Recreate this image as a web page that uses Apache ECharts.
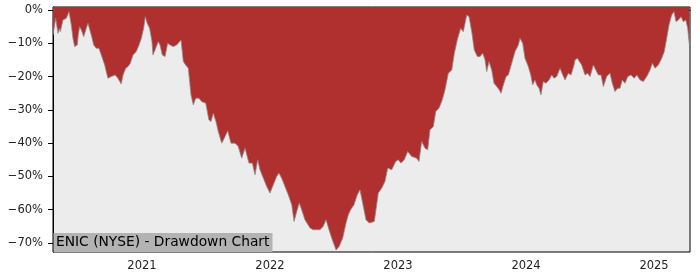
<!DOCTYPE html>
<html><head><meta charset="utf-8">
<script src="https://cdn.jsdelivr.net/npm/echarts@6/dist/echarts.min.js"></script>
<style>html,body{margin:0;padding:0;background:#fff}#c{width:700px;height:280px}</style>
</head><body><div id="c"></div>
<script>
// time as decimal years
const years = [2020.305,2020.326,2020.344,2020.357,2020.362,2020.383,2020.409,2020.430,2020.448,2020.461,2020.474,2020.487,2020.495,2020.502,2020.513,2020.526,2020.545,2020.565,2020.578,2020.591,2020.604,2020.623,2020.643,2020.664,2020.682,2020.709,2020.721,2020.734,2020.760,2020.773,2020.791,2020.812,2020.838,2020.852,2020.873,2020.891,2020.909,2020.930,2020.955,2020.977,2020.995,2021.013,2021.026,2021.041,2021.060,2021.078,2021.086,
2021.102,2021.127,2021.141,2021.159,2021.180,2021.201,2021.219,2021.245,2021.271,2021.305,2021.323,2021.341,2021.362,2021.383,2021.401,2021.420,2021.445,2021.466,2021.498,2021.523,2021.539,2021.557,2021.578,2021.596,2021.623,2021.643,2021.670,2021.695,2021.727,2021.752,2021.779,2021.805,2021.836,2021.862,2021.883,2021.904,
2021.922,2021.948,2021.974,2022.000,2022.026,2022.052,2022.070,2022.091,2022.117,2022.143,2022.170,2022.188,2022.209,2022.229,2022.252,2022.273,2022.313,2022.338,2022.365,2022.391,2022.416,2022.438,2022.461,2022.482,2022.516,2022.541,2022.568,2022.594,2022.612,2022.630,2022.656,2022.682,2022.703,2022.724,2022.750,2022.776,
2022.815,2022.846,2022.873,2022.898,2022.920,2022.951,2022.982,2023.002,2023.023,2023.049,2023.076,2023.107,2023.146,2023.164,2023.185,2023.211,2023.232,2023.250,2023.276,2023.295,2023.320,2023.346,2023.367,2023.393,2023.420,2023.440,2023.466,2023.490,2023.510,2023.537,2023.555,
2023.576,2023.596,2023.620,2023.641,2023.662,2023.680,2023.693,2023.711,2023.732,2023.750,2023.771,2023.791,2023.805,2023.823,2023.844,2023.862,2023.888,2023.914,2023.940,2023.953,2023.974,2023.992,2024.018,2024.037,2024.052,2024.070,2024.084,2024.102,2024.117,2024.135,2024.156,2024.180,2024.201,2024.219,2024.240,2024.266,2024.287,2024.305,2024.330,2024.352,2024.375,
2024.383,2024.401,2024.414,2024.435,2024.461,2024.482,2024.500,2024.526,2024.545,2024.565,2024.586,2024.604,2024.630,2024.656,2024.674,2024.695,2024.716,2024.734,2024.752,2024.773,2024.795,2024.820,2024.846,2024.865,2024.891,2024.916,2024.943,2024.969,2024.987,2025.008,2025.034,2025.060,2025.080,2025.099,2025.117,2025.138,2025.156,2025.172,2025.190,2025.211,2025.229,2025.248,2025.263,2025.276];
const drawdown = [-7.5,-2.5,-7.0,-5.5,-6.5,-3.0,-2.5,-0.5,-4.5,-8.5,-11.0,-11.5,-10.5,-7.5,-5.0,-6.0,-8.0,-5.5,-4.0,-4.5,-7.5,-10.5,-11.5,-11.5,-13.5,-16.5,-18.5,-20.5,-20.0,-20.5,-19.5,-20.5,-22.2,-19.5,-17.5,-17.0,-16.0,-13.5,-12.5,-10.5,-8.5,-5.5,-2.0,-4.0,-5.5,-9.5,-13.5,
-12.0,-9.5,-10.5,-13.5,-14.0,-10.0,-10.5,-11.0,-10.5,-9.0,-15.5,-16.5,-17.5,-25.5,-28.5,-26.5,-26.5,-27.5,-28.0,-33.0,-33.5,-31.0,-33.5,-36.5,-40.0,-38.5,-36.3,-40.0,-40.0,-41.0,-44.5,-41.5,-46.0,-46.0,-49.5,-45.0,
-48.0,-50.5,-53.0,-55.0,-52.5,-50.0,-49.0,-50.5,-53.0,-55.5,-58.5,-63.5,-60.5,-58.0,-60.5,-63.0,-65.5,-66.0,-66.0,-66.0,-65.0,-63.0,-66.0,-68.5,-72.1,-71.0,-68.5,-64.0,-61.5,-60.0,-58.5,-55.5,-54.0,-58.0,-63.0,-64.0,
-63.5,-55.0,-53.5,-51.5,-47.5,-48.0,-45.5,-45.0,-46.0,-45.0,-42.5,-44.0,-44.5,-45.5,-39.5,-41.5,-42.0,-36.0,-35.0,-30.5,-29.5,-27.0,-24.0,-19.0,-18.0,-13.0,-8.5,-5.5,-6.5,-1.5,-2.0,
-6.5,-12.0,-14.0,-14.0,-13.0,-15.0,-18.5,-15.5,-18.0,-22.0,-23.0,-24.0,-25.0,-22.5,-20.0,-19.5,-16.0,-12.5,-10.5,-8.5,-10.0,-14.5,-17.0,-19.5,-22.5,-21.0,-22.5,-23.5,-25.5,-21.5,-22.0,-21.0,-19.5,-20.5,-20.0,-17.5,-19.5,-21.0,-19.0,-19.5,-16.5,
-15.0,-14.5,-15.0,-16.5,-19.5,-19.0,-20.0,-16.5,-18.0,-19.5,-19.5,-23.0,-20.0,-19.0,-22.0,-24.5,-23.5,-23.5,-21.0,-22.0,-20.0,-19.5,-20.5,-19.5,-21.0,-21.5,-20.0,-18.0,-16.0,-17.5,-16.5,-14.5,-12.5,-8.5,-4.5,-1.5,-0.5,-3.5,-3.0,-2.0,-3.5,-3.0,-5.5,-10.5];
const yTicks = [-70,-60,-50,-40,-30,-20,-10,0];
const yearTicks = [2021,2022,2023,2024,2025];
const xRange = [2020.305, 2025.281];
const yRange = [-72.7, 0.9];
const title = "ENIC (NYSE) - Drawdown Chart";

const chart = echarts.init(document.getElementById('c'), null, {renderer:'canvas'});
const font = 'DejaVu Sans';
chart.setOption({
  animation: false,
  grid: {left:53, right:10, top:7, bottom:28, show:true, backgroundColor:'#ececec', borderColor:'#000', borderWidth:1},
  xAxis: {
    type:'value', min: xRange[0], max: xRange[1],
    axisLine:{show:true, lineStyle:{color:'#000', width:1}},
    axisTick:{show:true, length:5, lineStyle:{color:'#000'}, customValues: yearTicks},
    axisLabel:{color:'#222', fontFamily:font, fontSize:11.5, margin:8, customValues: yearTicks,
      formatter: v => String(Math.round(v))},
    splitLine:{show:false}
  },
  yAxis: {
    type:'value', min:yRange[0], max:yRange[1],
    axisLine:{show:true, lineStyle:{color:'#000', width:1}},
    axisTick:{show:true, length:5, lineStyle:{color:'#000'}, customValues: yTicks},
    axisLabel:{color:'#222', fontFamily:font, fontSize:11.5, margin:10, customValues: yTicks,
      formatter: v => (v < 0 ? '\u2212' + Math.abs(v) : String(v)) + '%'},
    splitLine:{show:false}
  },
  series: [{
    type:'line', data: years.map((t,i)=>[t, drawdown[i]]),
    showSymbol:false, symbol:'none',
    lineStyle:{color:'#8a8a8a', width:0.8},
    areaStyle:{color:'#b03030', opacity:1, origin:'end'}
  }],
  graphic: [
    {type:'rect', left:53.5, top:233, shape:{width:219, height:19}, style:{fill:'#b3b3b3'}, z:100},
    {type:'text', left:56, top:235, style:{text:title, fill:'#000', font:'13.8px "DejaVu Sans"'}, z:101}
  ]
});
</script></body></html>
